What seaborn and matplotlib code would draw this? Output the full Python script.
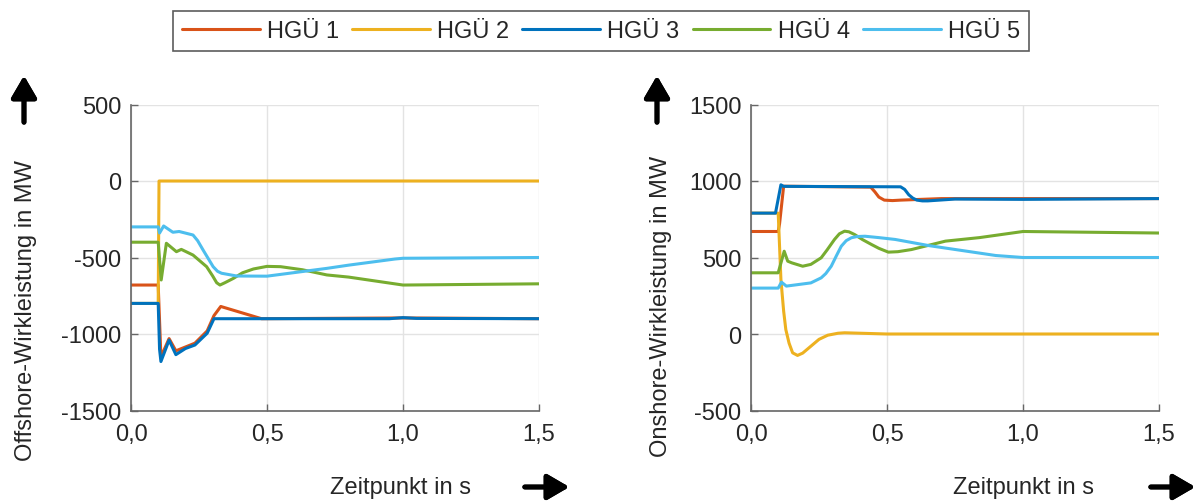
import matplotlib
matplotlib.use("Agg")
import matplotlib.pyplot as plt
import seaborn as sns
from matplotlib.ticker import FuncFormatter

# ---- data ----
names = ["HGÜ 1", "HGÜ 2", "HGÜ 3", "HGÜ 4", "HGÜ 5"]
colors = ["#D95319", "#EDB120", "#0072BD", "#77AC30", "#4DBEEE"]

# offshore active power (left)
t_off_1 = [0, 0.1, 0.11, 0.14, 0.165, 0.2, 0.235, 0.28, 0.305, 0.33, 0.48, 1.0, 1.5]
p_off_1 = [-680, -680, -1150, -1030, -1110, -1085, -1060, -980, -880, -820, -900, -895, -900]
t_off_2 = [0, 0.1, 0.103, 1.5]
p_off_2 = [-800, -800, 0, 0]
t_off_3 = [0, 0.1, 0.105, 0.11, 0.14, 0.165, 0.2, 0.235, 0.28, 0.305, 0.95, 1.0, 1.05, 1.5]
p_off_3 = [-800, -800, -1100, -1180, -1040, -1135, -1095, -1072, -995, -900, -900, -893, -898, -900]
t_off_4 = [0, 0.1, 0.111, 0.13, 0.167, 0.185, 0.228, 0.278, 0.3, 0.315, 0.327, 0.345, 0.377,
           0.41, 0.45, 0.5, 0.55, 0.63, 0.72, 0.8, 1.0, 1.5]
p_off_4 = [-400, -400, -647, -407, -462, -447, -484, -560, -620, -665, -680, -665, -636,
           -600, -575, -558, -560, -580, -614, -628, -680, -672]
t_off_5 = [0, 0.1, 0.105, 0.12, 0.154, 0.177, 0.228, 0.245, 0.265, 0.285, 0.302, 0.318, 0.333,
           0.389, 0.5, 0.72, 0.8, 0.97, 1.0, 1.5]
p_off_5 = [-300, -300, -340, -294, -335, -330, -353, -390, -451, -510, -560, -590, -603,
           -621, -622, -571, -550, -510, -505, -500]

# onshore active power (right)
t_on_1 = [0, 0.1, 0.105, 0.12, 0.44, 0.455, 0.47, 0.49, 0.52, 0.55, 0.7, 1.5]
p_on_1 = [670, 670, 720, 966, 960, 930, 895, 875, 872, 875, 885, 885]
t_on_2 = [0, 0.1, 0.11, 0.12, 0.128, 0.14, 0.153, 0.171, 0.19, 0.22, 0.25, 0.282, 0.32, 0.344, 0.5, 1.5]
p_on_2 = [790, 790, 356, 150, 29, -60, -123, -140, -125, -80, -35, -8, 5, 8, 0, 0]
t_on_3 = [0, 0.09, 0.11, 0.12, 0.55, 0.565, 0.58, 0.595, 0.61, 0.63, 0.65, 0.75, 1.0, 1.5]
p_on_3 = [790, 790, 975, 965, 962, 945, 910, 888, 875, 870, 870, 882, 880, 885]
t_on_4 = [0, 0.1, 0.122, 0.135, 0.15, 0.19, 0.22, 0.258, 0.28, 0.307, 0.325, 0.344, 0.36, 0.381,
          0.41, 0.443, 0.47, 0.505, 0.54, 0.59, 0.715, 0.84, 1.0, 1.5]
p_on_4 = [400, 400, 541, 476, 465, 443, 455, 498, 550, 618, 655, 672, 668, 650,
          617, 585, 560, 535, 538, 552, 607, 630, 670, 660]
t_on_5 = [0, 0.1, 0.112, 0.13, 0.16, 0.22, 0.258, 0.275, 0.295, 0.315, 0.332, 0.35, 0.369, 0.39,
          0.419, 0.47, 0.53, 0.653, 0.9, 1.0, 1.5]
p_on_5 = [300, 300, 339, 313, 320, 334, 367, 395, 443, 515, 574, 610, 629, 637,
          639, 630, 618, 578, 513, 500, 500]

off_series = [(t_off_1, p_off_1), (t_off_2, p_off_2), (t_off_3, p_off_3), (t_off_4, p_off_4), (t_off_5, p_off_5)]
on_series = [(t_on_1, p_on_1), (t_on_2, p_on_2), (t_on_3, p_on_3), (t_on_4, p_on_4), (t_on_5, p_on_5)]

x_ticks = [0, 0.5, 1.0, 1.5]
y_ticks_off = [-1500, -1000, -500, 0, 500]
y_ticks_on = [-500, 0, 500, 1000, 1500]

sns.set_style("white")
plt.rcParams["font.family"] = ["Liberation Sans", "DejaVu Sans"]
plt.rcParams["axes.unicode_minus"] = False
FS = 17
W, H = 1196, 502
fig = plt.figure(figsize=(W / 100, H / 100), dpi=100)


def make_axes(x0, series, yticks, ylabel, ylab_x, ylab_y, xlab_x):
    ax = fig.add_axes([x0 / W, 1 - 411.5 / H, 408 / W, 306 / H])
    for (t, p), c, n in zip(series, colors, names):
        sns.lineplot(x=t, y=p, ax=ax, color=c, lw=2.2, label=n, sort=False, estimator=None)
    ax.set_xlim(0, 1.5)
    ax.set_ylim(yticks[0], yticks[-1])
    ax.set_xticks(x_ticks)
    ax.set_yticks(yticks)
    ax.xaxis.set_major_formatter(FuncFormatter(lambda v, _: f"{v:.1f}".replace(".", ",")))
    ax.grid(True, color="#e3e3e3", lw=1)
    for s in ["top", "right"]:
        ax.spines[s].set_visible(False)
    for s in ["left", "bottom"]:
        ax.spines[s].set_color("#666666")
        ax.spines[s].set_linewidth(1.2)
    ax.tick_params(direction="in", length=5, width=1, color="#666666",
                   labelsize=FS, labelcolor="#262626", left=True, bottom=True)
    ax.tick_params(axis="y", pad=7)
    ax.tick_params(axis="x", pad=9)
    ax.set_ylabel(ylabel, fontsize=FS, color="#262626")
    ax.yaxis.set_label_coords(ylab_x, ylab_y)
    ax.set_xlabel("Zeitpunkt in s", fontsize=FS, color="#262626")
    ax.xaxis.set_label_coords(xlab_x, -0.215)
    ax.get_legend().remove()
    return ax


ax1 = make_axes(131, off_series, y_ticks_off, "Offshore-Wirkleistung in MW", -0.23, 0.33, 0.66)
ax2 = make_axes(751, on_series, y_ticks_on, "Onshore-Wirkleistung in MW", -0.194, 0.343, 0.667)

handles, labels = ax1.get_legend_handles_labels()
leg = fig.legend(handles, labels, ncol=5, loc="upper center", bbox_to_anchor=(601 / W, 1 - 11.5 / H),
                 fontsize=FS, frameon=True, fancybox=False, handlelength=3.3, handletextpad=0.3,
                 columnspacing=0.55, borderpad=0.4, borderaxespad=0)
leg.get_frame().set_edgecolor("#333333")
leg.get_frame().set_linewidth(1.2)

# axis direction arrows
arrow = dict(arrowstyle="-|>,head_length=0.6,head_width=0.35", lw=3.5, color="black", mutation_scale=22)
for x in (24, 657):
    fig.add_artist(plt.annotate("", xy=(x, 428), xytext=(x, 376), xycoords="figure pixels",
                                textcoords="figure pixels", arrowprops=arrow))
for x in (522, 1148):
    fig.add_artist(plt.annotate("", xy=(x + 50, 14), xytext=(x, 14), xycoords="figure pixels",
                                textcoords="figure pixels", arrowprops=arrow))

fig.savefig("out.png", dpi=100)
